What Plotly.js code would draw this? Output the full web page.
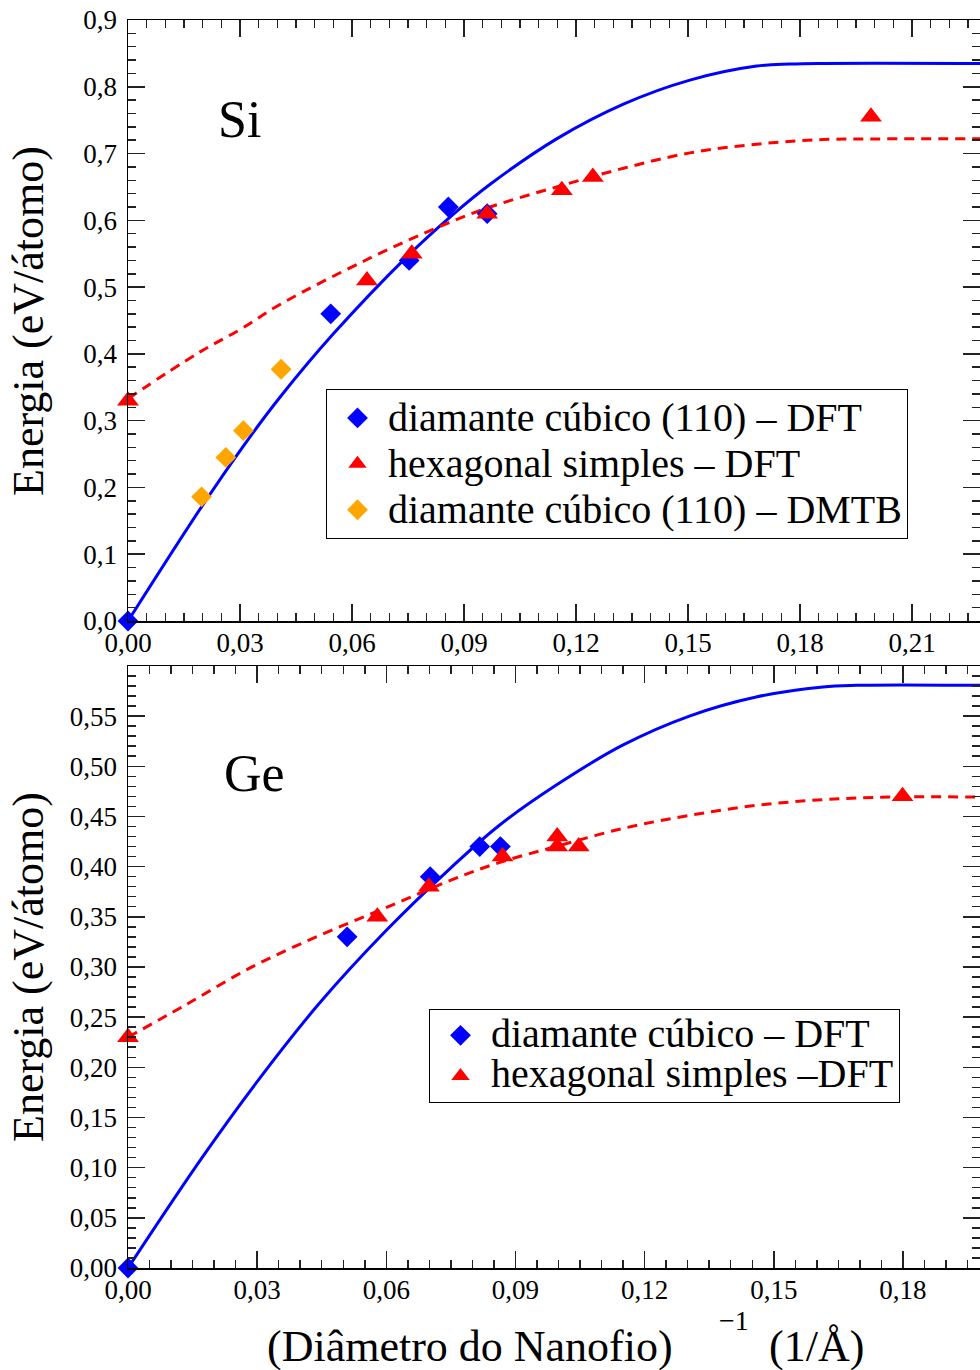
<!DOCTYPE html>
<html>
<head>
<meta charset="utf-8">
<script src="https://cdn.plot.ly/plotly-3.0.1.min.js"></script>
<style>
  html, body { margin: 0; padding: 0; background: #fff; }
  #chart { width: 980px; height: 1370px; }
  /* legend entries: large serif text on compact rows */
  text.legendtext, text.legend2text { font-size: 40px !important; }
</style>
</head>
<body>
<div id="chart"></div>
<script>
// ---- Si: energy per atom vs inverse nanowire diameter ----
const siCubX = [0, 0.0543, 0.0753, 0.0858, 0.0962];
const siCubY = [0, 0.46, 0.54, 0.62, 0.61];
const siHexX = [0, 0.064, 0.076, 0.0962, 0.1162, 0.1245, 0.199];
const siHexY = [0.33, 0.51, 0.55, 0.61, 0.645, 0.665, 0.755];
const siTbX = [0.0197, 0.0262, 0.0309, 0.041];
const siTbY = [0.186, 0.245, 0.285, 0.377];
// fitted curves (Si)
const siFitCubX = [0, 0.0197, 0.0309, 0.0407, 0.055, 0.0746, 0.0871, 0.097, 0.1148, 0.1327, 0.1505, 0.1684, 0.1773, 0.185, 0.2282];
const siFitCubY = [0, 0.171, 0.262, 0.335, 0.430, 0.545, 0.609, 0.654, 0.722, 0.774, 0.810, 0.831, 0.834, 0.835, 0.835];
const siFitHexX = [0, 0.0193, 0.0305, 0.0407, 0.0639, 0.0836, 0.097, 0.1148, 0.1327, 0.1505, 0.1684, 0.1862, 0.2041, 0.2282];
const siFitHexY = [0.333, 0.403, 0.438, 0.474, 0.541, 0.591, 0.620, 0.650, 0.678, 0.701, 0.714, 0.721, 0.722, 0.722];

// ---- Ge ----
const geCubX = [0, 0.0509, 0.0702, 0.0817, 0.0865];
const geCubY = [0, 0.33, 0.39, 0.42, 0.42];
const geHexX = [0, 0.0579, 0.0699, 0.087, 0.0997, 0.0997, 0.1047, 0.1799];
const geHexY = [0.23, 0.35, 0.38, 0.41, 0.43, 0.42, 0.42, 0.47];
const geFitCubX = [0, 0.0172, 0.0304, 0.0443, 0.0599, 0.0753, 0.0862, 0.0994, 0.1149, 0.1304, 0.1459, 0.1614, 0.1692, 0.1979];
const geFitCubY = [0, 0.110, 0.188, 0.263, 0.336, 0.400, 0.441, 0.481, 0.521, 0.550, 0.569, 0.579, 0.5806, 0.5806];
const geFitHexX = [0, 0.0133, 0.0288, 0.0443, 0.0599, 0.0753, 0.0862, 0.0994, 0.1149, 0.1304, 0.1459, 0.1614, 0.1769, 0.1979];
const geFitHexY = [0.23, 0.262, 0.300, 0.331, 0.359, 0.387, 0.404, 0.420, 0.438, 0.451, 0.461, 0.4667, 0.4693, 0.4693];

// legend / text labels
const siNames = ['diamante cúbico (110) – DFT', 'hexagonal simples – DFT', 'diamante cúbico (110) – DMTB'];
const geNames = ['diamante cúbico – DFT', 'hexagonal simples –DFT'];
const yTitle = 'Energia (eV/átomo)';
const xTitleMain = '(Diâmetro do Nanofio)';
const xTitleExp = '−1';
const xTitleUnit = '(1/Å)';

const SERIF = 'Liberation Serif, Times New Roman, serif';
const BLUE = '#0000ff', RED = '#ff0000', ORANGE = '#ffa500';

// page geometry of the two panels
const W = 980, H = 1370;
const M = {l: 128, r: 0, t: 20, b: 102};
const PW = W - M.l - M.r, PH = H - M.t - M.b;
const px = x => (x - M.l) / PW;               // page px -> paper x
const py = y => (H - M.b - y) / PH;           // page px -> paper y

function fitLine(x, y, color, dash, xa, ya) {
  return {x, y, xaxis: xa, yaxis: ya, mode: 'lines', showlegend: false, hoverinfo: 'skip',
          line: {color, width: 3, shape: 'spline', smoothing: 1, dash: dash ? '10px,7px' : 'solid'}};
}
function pts(x, y, name, symbol, color, xa, ya, legend) {
  return {x, y, name, xaxis: xa, yaxis: ya, mode: 'markers', legend, cliponaxis: false,
          marker: {symbol, color, size: symbol === 'diamond' ? 16 : 19, line: {width: 0}}};
}

const data = [
  fitLine(siFitCubX, siFitCubY, BLUE, false, 'x', 'y'),
  fitLine(siFitHexX, siFitHexY, RED, true, 'x', 'y'),
  pts(siCubX, siCubY, siNames[0], 'diamond', BLUE, 'x', 'y', 'legend'),
  pts(siHexX, siHexY, siNames[1], 'triangle-up', RED, 'x', 'y', 'legend'),
  pts(siTbX, siTbY, siNames[2], 'diamond', ORANGE, 'x', 'y', 'legend'),
  fitLine(geFitCubX, geFitCubY, BLUE, false, 'x2', 'y2'),
  fitLine(geFitHexX, geFitHexY, RED, true, 'x2', 'y2'),
  pts(geCubX, geCubY, geNames[0], 'diamond', BLUE, 'x2', 'y2', 'legend2'),
  pts(geHexX, geHexY, geNames[1], 'triangle-up', RED, 'x2', 'y2', 'legend2')
];

function axis(extra, minorStep, standoff) {
  return Object.assign({
    showline: true, linecolor: '#000', linewidth: 1.5, mirror: 'allticks',
    ticks: 'inside', ticklen: 17, tickwidth: 1.5, tickcolor: '#222',
    showgrid: false, zeroline: false, fixedrange: true, ticklabelstandoff: standoff,
    tickfont: {family: SERIF, size: 27, color: '#000'},
    minor: {dtick: minorStep, ticks: 'inside', ticklen: 8, tickwidth: 1.5, tickcolor: '#222', showgrid: false}
  }, extra);
}

const legendStyle = {
  xanchor: 'left', yanchor: 'top', bgcolor: '#fff', bordercolor: '#000', borderwidth: 1,
  itemwidth: 51, tracegroupgap: 0
};

const ann = (text, x, y, size, opts) => Object.assign({
  text, xref: 'paper', yref: 'paper', x, y, showarrow: false,
  font: {family: SERIF, size, color: '#000'}, xanchor: 'center', yanchor: 'middle'
}, opts || {});

const layout = {
  width: W, height: H, margin: M, paper_bgcolor: '#fff', plot_bgcolor: '#fff',
  separators: ',.', font: {family: SERIF, color: '#000'},
  xaxis: axis({domain: [0, 1], anchor: 'y', range: [0, 0.2282], tick0: 0, dtick: 0.03, tickformat: '.2f'}, 0.005, -3),
  yaxis: axis({domain: [py(621), 1], anchor: 'x', range: [0, 0.9], tick0: 0, dtick: 0.1, tickformat: '.1f'}, 0.02, 4),
  xaxis2: axis({domain: [0, 1], anchor: 'y2', range: [0, 0.1979], tick0: 0, dtick: 0.03, tickformat: '.2f'}, 0.005, -3),
  yaxis2: axis({domain: [0, py(666)], anchor: 'x2', range: [0, 0.5999], tick0: 0, dtick: 0.05, tickformat: '.2f'}, 0.01, 4),
  legend: Object.assign({x: px(326), y: py(389),
                         font: {family: SERIF, size: 33, color: '#000'}}, legendStyle),
  legend2: Object.assign({x: px(429), y: py(1009),
                          font: {family: SERIF, size: 29, color: '#000'}}, legendStyle),
  annotations: [
    ann('Si', px(239), py(119), 52),
    ann('Ge', px(254), py(773), 52),
    ann(yTitle, px(28), py(321), 44, {textangle: -90}),
    ann(yTitle, px(28), py(967), 44, {textangle: -90}),
    ann(xTitleMain, px(675), py(1347), 44, {xanchor: 'right'}),
    ann(xTitleExp, px(734), py(1320), 28),
    ann(xTitleUnit, px(767), py(1347), 44, {xanchor: 'left'})
  ]
};

Plotly.newPlot('chart', data, layout, {staticPlot: true, displayModeBar: false});
</script>
</body>
</html>
